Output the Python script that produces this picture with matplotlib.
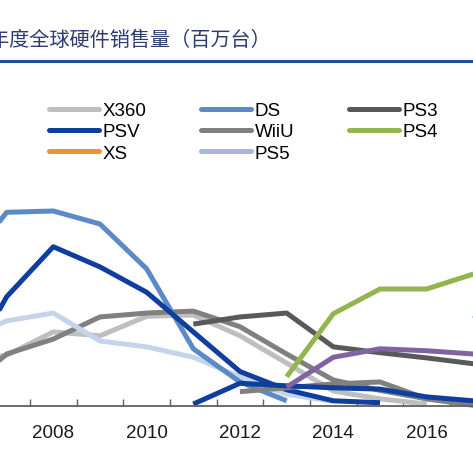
import numpy as np
import matplotlib
matplotlib.use('Agg')
import matplotlib.pyplot as plt
from matplotlib.lines import Line2D

nan = np.nan

# annual hardware sales, million units
years = list(range(2006, 2019))
x360 = [7.0, 7.8, 11.4, 10.8, 13.8, 14.0, 10.8, 6.6, 2.3, 1.1, 0.3, nan, nan]
ps3 = [1.7, 8.0, 10.3, 13.7, 14.3, 14.6, 12.2, 8.0, 4.0, 2.4, 1.1, 0.3, nan]
psp = [10.0, 13.1, 14.3, 10.0, 9.1, 7.5, 4.5, 1.8, 0.7, nan, nan, nan, nan]
ds = [20.5, 29.8, 30.0, 28.0, 21.1, 8.8, 3.7, 0.8, nan, nan, nan, nan, nan]
wii = [4.0, 16.8, 24.5, 21.4, 17.5, 11.4, 5.3, 2.5, 0.8, 0.5, nan, nan, nan]
ds3 = [nan, nan, nan, nan, nan, 12.6, 13.7, 14.3, 9.1, 8.2, 7.4, 6.5, nan]
wiiu = [nan, nan, nan, nan, nan, nan, 2.2, 2.8, 3.4, 3.7, 1.1, 0.1, nan]
psv = [nan, nan, nan, nan, nan, 0.3, 3.5, 3.1, 2.8, 2.6, 1.4, 0.8, nan]
ps4 = [nan, nan, nan, nan, nan, nan, nan, 4.5, 14.2, 18.0, 18.0, 20.3, nan]
xone = [nan, nan, nan, nan, nan, nan, nan, 2.9, 7.5, 8.8, 8.5, 8.0, nan]
ns = [nan, nan, nan, nan, nan, nan, nan, nan, nan, nan, nan, 13.4, 17.0]

label_years = [2008, 2010, 2012, 2014, 2016]

# legend entries in column order (3 columns, filled top to bottom)
legend_names = ['X360', 'PSV', 'XS', 'DS', 'WiiU', 'PS5', 'PS3', 'PS4']
legend_colors = ['#BFBFBF', '#0F3E9E', '#F0913A', '#5B8AC6', '#808080', '#A9B5D9', '#595959', '#93B550']

plt.rcParams['font.family'] = ['Liberation Sans', 'DejaVu Sans']

fig = plt.figure(figsize=(4.73, 4.77), dpi=100)

# plot area: bottom of axis at y=407px, 6.5 px per million
ax = fig.add_axes([0, 70 / 477, 1, 35 * 6.5 / 477])
lw = 3.6
series = [
    (x360, '#BFBFBF'),
    (ps3, '#808080'),
    (psp, '#C6D4EB'),
    (ds, '#5B8AC6'),
    (wii, '#0F3E9E'),
    (ds3, '#595959'),
    (wiiu, '#808080'),
    (psv, '#0F3E9E'),
    (ps4, '#93B550'),
    (xone, '#8064A2'),
    (ns, '#5B9BD5'),
]
for vals, col in series:
    ax.plot(years, vals, color=col, lw=lw, solid_joinstyle='round',
            solid_capstyle='butt', clip_on=False)

for s in ['top', 'right', 'left']:
    ax.spines[s].set_visible(False)
ax.spines['bottom'].set_color('#606060')
ax.spines['bottom'].set_linewidth(1.3)
ax.set_yticks([])

ax.set_xticks([y + 0.5 for y in range(2005, 2018)])
ax.set_xticklabels([])
ax.tick_params(axis='x', which='major', direction='in', length=5, width=1, color='#606060')
ax.set_xticks(label_years, minor=True)
ax.set_xticklabels([str(y) for y in label_years], minor=True, fontsize=13.5, color='#1A1A1A')
ax.tick_params(axis='x', which='minor', length=0, pad=13)

ax.set_xlim(2008 - 53.3 / 46.67, 2008 + (473 - 53.3) / 46.67)
ax.set_ylim(0, 35)

handles = [Line2D([], [], color=c, lw=lw, solid_capstyle='round') for c in legend_colors]
fig.legend(handles, legend_names, ncol=3, loc='upper left',
           bbox_to_anchor=(49 / 473, 1 - 103 / 477), frameon=False, fontsize=13.5,
           borderpad=0, borderaxespad=0, handlelength=2.67, handletextpad=0.2,
           labelspacing=0.22, columnspacing=2.9)

fig.text(-11 / 473, 1 - 40 / 477, '年度全球硬件销售量（百万台）', fontsize=14.5,
         color='#2F3C70', va='center', ha='left',
         family=['Noto Sans CJK SC', 'DejaVu Sans'])
fig.add_artist(Line2D([0, 1], [1 - 62 / 477, 1 - 62 / 477], color='#1F4E9A', lw=2.2))

fig.savefig('out.png', dpi=100)
